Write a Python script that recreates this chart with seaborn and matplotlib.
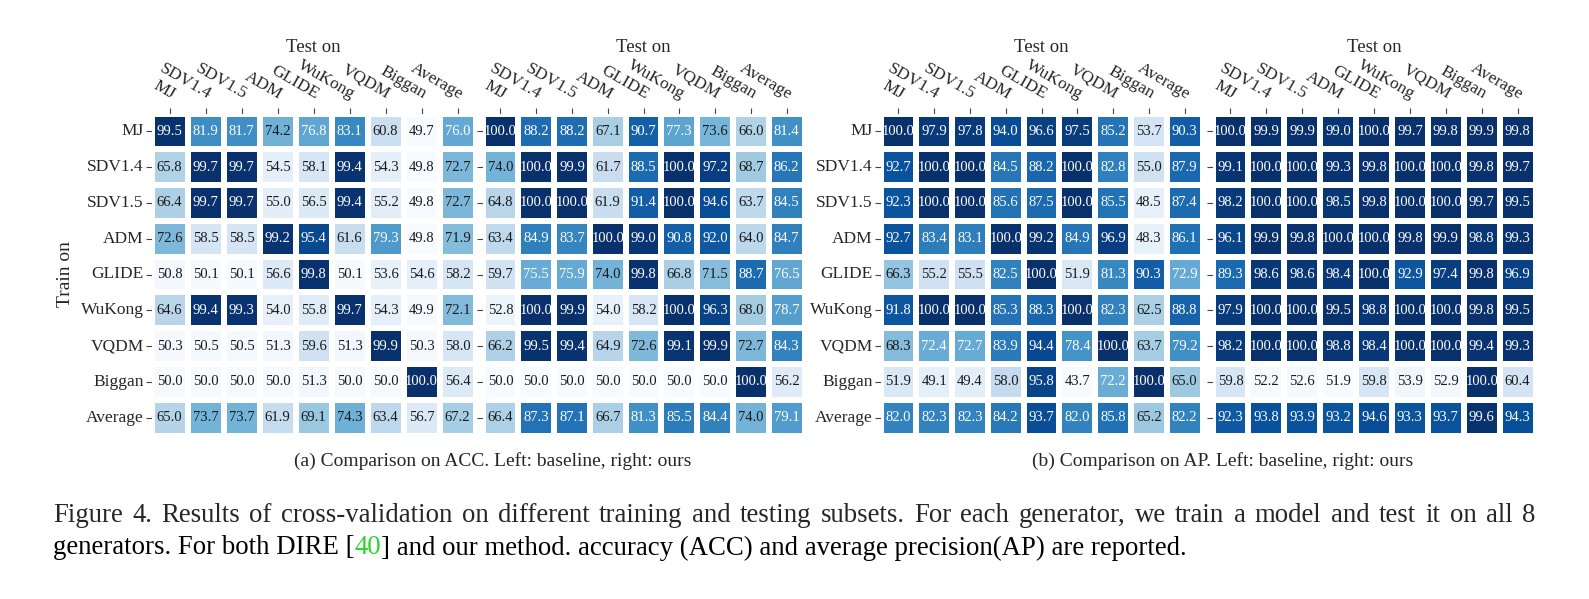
import numpy as np
import pandas as pd
import matplotlib
matplotlib.use("Agg")
import matplotlib.pyplot as plt
import seaborn as sns

sns.set_theme(style="white")
plt.rcParams['font.family'] = ['Liberation Serif', 'DejaVu Serif']

gens = ["MJ", "SDV1.4", "SDV1.5", "ADM", "GLIDE", "WuKong", "VQDM", "Biggan", "Average"]

acc_base = [
    [99.5, 81.9, 81.7, 74.2, 76.8, 83.1, 60.8, 49.7, 76.0],
    [65.8, 99.7, 99.7, 54.5, 58.1, 99.4, 54.3, 49.8, 72.7],
    [66.4, 99.7, 99.7, 55.0, 56.5, 99.4, 55.2, 49.8, 72.7],
    [72.6, 58.5, 58.5, 99.2, 95.4, 61.6, 79.3, 49.8, 71.9],
    [50.8, 50.1, 50.1, 56.6, 99.8, 50.1, 53.6, 54.6, 58.2],
    [64.6, 99.4, 99.3, 54.0, 55.8, 99.7, 54.3, 49.9, 72.1],
    [50.3, 50.5, 50.5, 51.3, 59.6, 51.3, 99.9, 50.3, 58.0],
    [50.0, 50.0, 50.0, 50.0, 51.3, 50.0, 50.0, 100.0, 56.4],
    [65.0, 73.7, 73.7, 61.9, 69.1, 74.3, 63.4, 56.7, 67.2],
]
acc_ours = [
    [100.0, 88.2, 88.2, 67.1, 90.7, 77.3, 73.6, 66.0, 81.4],
    [74.0, 100.0, 99.9, 61.7, 88.5, 100.0, 97.2, 68.7, 86.2],
    [64.8, 100.0, 100.0, 61.9, 91.4, 100.0, 94.6, 63.7, 84.5],
    [63.4, 84.9, 83.7, 100.0, 99.0, 90.8, 92.0, 64.0, 84.7],
    [59.7, 75.5, 75.9, 74.0, 99.8, 66.8, 71.5, 88.7, 76.5],
    [52.8, 100.0, 99.9, 54.0, 58.2, 100.0, 96.3, 68.0, 78.7],
    [66.2, 99.5, 99.4, 64.9, 72.6, 99.1, 99.9, 72.7, 84.3],
    [50.0, 50.0, 50.0, 50.0, 50.0, 50.0, 50.0, 100.0, 56.2],
    [66.4, 87.3, 87.1, 66.7, 81.3, 85.5, 84.4, 74.0, 79.1],
]
ap_base = [
    [100.0, 97.9, 97.8, 94.0, 96.6, 97.5, 85.2, 53.7, 90.3],
    [92.7, 100.0, 100.0, 84.5, 88.2, 100.0, 82.8, 55.0, 87.9],
    [92.3, 100.0, 100.0, 85.6, 87.5, 100.0, 85.5, 48.5, 87.4],
    [92.7, 83.4, 83.1, 100.0, 99.2, 84.9, 96.9, 48.3, 86.1],
    [66.3, 55.2, 55.5, 82.5, 100.0, 51.9, 81.3, 90.3, 72.9],
    [91.8, 100.0, 100.0, 85.3, 88.3, 100.0, 82.3, 62.5, 88.8],
    [68.3, 72.4, 72.7, 83.9, 94.4, 78.4, 100.0, 63.7, 79.2],
    [51.9, 49.1, 49.4, 58.0, 95.8, 43.7, 72.2, 100.0, 65.0],
    [82.0, 82.3, 82.3, 84.2, 93.7, 82.0, 85.8, 65.2, 82.2],
]
ap_ours = [
    [100.0, 99.9, 99.9, 99.0, 100.0, 99.7, 99.8, 99.9, 99.8],
    [99.1, 100.0, 100.0, 99.3, 99.8, 100.0, 100.0, 99.8, 99.7],
    [98.2, 100.0, 100.0, 98.5, 99.8, 100.0, 100.0, 99.7, 99.5],
    [96.1, 99.9, 99.8, 100.0, 100.0, 99.8, 99.9, 98.8, 99.3],
    [89.3, 98.6, 98.6, 98.4, 100.0, 92.9, 97.4, 99.8, 96.9],
    [97.9, 100.0, 100.0, 99.5, 98.8, 100.0, 100.0, 99.8, 99.5],
    [98.2, 100.0, 100.0, 98.8, 98.4, 100.0, 100.0, 99.4, 99.3],
    [59.8, 52.2, 52.6, 51.9, 59.8, 53.9, 52.9, 100.0, 60.4],
    [92.3, 93.8, 93.9, 93.2, 94.6, 93.3, 93.7, 99.6, 94.3],
]

sub_a = "(a) Comparison on ACC. Left: baseline, right: ours"
sub_b = "(b) Comparison on AP. Left: baseline, right: ours"
cap1 = "Figure 4.  Results of cross-validation on different training and testing subsets.  For each generator, we train a model and test it on all 8"
cap2_pre = "generators. For both DIRE ["
cap2_ref = "40"
cap2_post = "] and our method. accuracy (ACC) and average precision(AP) are reported."

W, H = 1589, 599
fig = plt.figure(figsize=(W / 100, H / 100), dpi=100)
fig.patch.set_facecolor("white")


def px_axes(x0, x1, y0, y1):
    return fig.add_axes([x0 / W, 1 - y1 / H, (x1 - x0) / W, (y1 - y0) / H])


panels = [
    (acc_base, 151.5, 475.5, True),
    (acc_ours, 482.5, 804.5, False),
    (ap_base, 880.5, 1202.5, True),
    (ap_ours, 1212.5, 1535.5, False),
]
for data, x0, x1, showy in panels:
    ax = px_axes(x0, x1, 113.5, 435.5)
    df = pd.DataFrame(data, index=gens, columns=gens)
    sns.heatmap(df, ax=ax, cmap="Blues", annot=True, fmt=".1f",
                annot_kws={"fontsize": 10.5}, linewidths=3, linecolor="white",
                cbar=False)
    # text colour: white on the darker half of the colour scale
    vals = np.asarray(data, dtype=float)
    lo, hi = vals.min(), vals.max()
    for t, v in zip(ax.texts, vals.ravel()):
        t.set_color("white" if (v - lo) / (hi - lo) > 0.5 else "#1a1a1a")
    ax.xaxis.tick_top()
    ax.set_xticklabels(gens, rotation=-30, ha="right", va="bottom",
                       rotation_mode="anchor", fontsize=12.5)
    if showy:
        ax.set_yticklabels(gens, rotation=0, fontsize=12.5)
    else:
        ax.set_yticklabels([""] * len(gens))
    ax.tick_params(left=True, top=True, bottom=False, length=4, width=0.8,
                   color="#444444", pad=1.5)
    ax.tick_params(axis="x", pad=4)
    ax.set_xlabel("")
    ax.set_ylabel("")
    fig.text((x0 + x1) / 2 / W, 1 - 48 / H, "Test on", ha="center",
             va="center", fontsize=13.5)

fig.text(65 / W, 1 - 274 / H, "Train on", rotation=90, ha="center",
         va="center", fontsize=14)

fig.text(493 / W, 1 - 461 / H, sub_a, ha="center", va="center", fontsize=14)
fig.text(1223 / W, 1 - 461 / H, sub_b, ha="center", va="center", fontsize=14)

# caption
cap_fs = 19.3
fig.canvas.draw()
r = fig.canvas.get_renderer()


def wpx(s):
    t = fig.text(0, 0, s, fontsize=cap_fs)
    w = t.get_window_extent(r).width
    t.remove()
    return w


# justified first line
words = cap1.split()
left, right = 53, 1535
ww = [wpx(w) for w in words]
gap = (right - left - sum(ww)) / (len(words) - 1)
x = left
for w, wd in zip(words, ww):
    fig.text(x / W, 1 - 515 / H, w, ha="left", va="center", fontsize=cap_fs)
    x += wd + gap

sp = wpx("a b") - wpx("ab")
x = left
for s, col in [(cap2_pre, "black"), (cap2_ref, "#2bd42b"), (cap2_post, "black")]:
    fig.text(x / W, 1 - 548 / H, s, ha="left", va="center", fontsize=cap_fs,
             color=col)
    x += wpx(s) + (sp if s.endswith(" ") else 0)

fig.savefig("out.png", dpi=100, facecolor="white")
